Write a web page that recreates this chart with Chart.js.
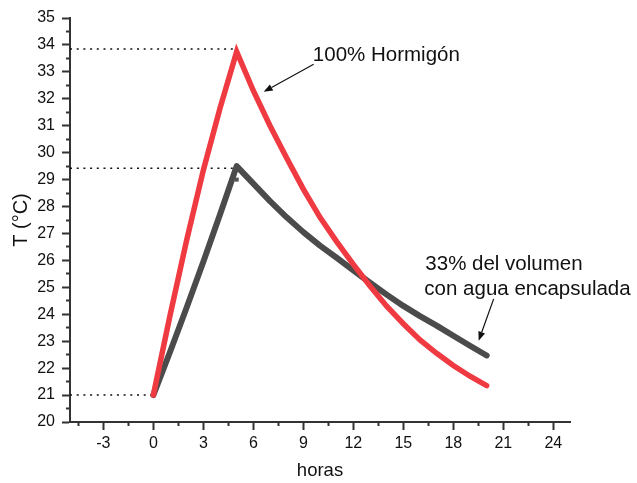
<!DOCTYPE html>
<html>
<head>
<meta charset="utf-8">
<script src="https://cdn.jsdelivr.net/npm/chart.js@4.4.0/dist/chart.umd.min.js"></script>
<style>
  html, body { margin: 0; padding: 0; background: #fff; }
</style>
</head>
<body>
<canvas id="grafico" width="637" height="483"></canvas>
<script>
// datos
const horas = [0, 1, 2, 3, 4, 5, 6, 7, 8, 9, 10, 11, 12, 13, 14, 15, 16, 17, 18, 19, 20];
const hormigon = [21, 23.95, 26.75, 29.35, 31.65, 33.75, 32.3, 31.0, 29.8, 28.65, 27.6, 26.7, 25.85, 25.05, 24.3, 23.65, 23.05, 22.55, 22.1, 21.7, 21.35];
const encapsulada = [21, 22.6, 24.25, 25.95, 27.7, 29.5, 28.85, 28.2, 27.6, 27.05, 26.55, 26.1, 25.63, 25.17, 24.73, 24.31, 23.93, 23.58, 23.2, 22.83, 22.47];
const marcaExtra = [29.0];
const marcaHora = [5];

const guiaNiveles = [33.85, 29.42, 21];
const guiaFin = [5, 5, 0];

const xTicks = [-4.5, -3, -1.5, 0, 1.5, 3, 4.5, 6, 7.5, 9, 10.5, 12, 13.5, 15, 16.5, 18, 19.5, 21, 22.5, 24];
const yTicks = [20, 20.5, 21, 21.5, 22, 22.5, 23, 23.5, 24, 24.5, 25, 25.5, 26, 26.5, 27, 27.5, 28, 28.5, 29, 29.5, 30, 30.5, 31, 31.5, 32, 32.5, 33, 33.5, 34, 34.5, 35];
const xMin = -5, xMax = 25, yMin = 20, yMax = 35;

const textos = [
    { texto: '100% Hormigón', t: 13.98, temp: 33.4, align: 'center' },
    { texto: '33% del volumen', t: 16.32, temp: 25.66, align: 'left' },
    { texto: 'con agua encapsulada', t: 16.26, temp: 24.73, align: 'left' }
];
const flechas = [
    { desde: [9.62, 33.28], hasta: [6.62, 32.26] },
    { desde: [20.42, 24.57], hasta: [19.52, 23.02] }
];

const fuente = '"Liberation Sans", Arial, sans-serif';
Chart.defaults.font.family = fuente;
Chart.defaults.color = '#111';

const notas = {
    id: 'notas',
    afterDatasetsDraw(chart) {
        const ctx = chart.ctx;
        const x = chart.scales.x, y = chart.scales.y;
        ctx.save();
        ctx.fillStyle = '#111';
        ctx.strokeStyle = '#111';
        ctx.font = '20.5px ' + fuente;
        ctx.textBaseline = 'alphabetic';
        textos.forEach(function (n) {
            ctx.textAlign = n.align;
            ctx.fillText(n.texto, x.getPixelForValue(n.t), y.getPixelForValue(n.temp));
        });
        flechas.forEach(function (f) {
            let x1 = x.getPixelForValue(f.desde[0]), y1 = y.getPixelForValue(f.desde[1]);
            let x2 = x.getPixelForValue(f.hasta[0]), y2 = y.getPixelForValue(f.hasta[1]);
            let ang = Math.atan2(y2 - y1, x2 - x1);
            let largo = 9, ancho = 3.5;
            let bx = x2 - largo * Math.cos(ang), by = y2 - largo * Math.sin(ang);
            ctx.lineWidth = 1.2;
            ctx.beginPath();
            ctx.moveTo(x1, y1);
            ctx.lineTo(bx, by);
            ctx.stroke();
            ctx.beginPath();
            ctx.moveTo(x2, y2);
            ctx.lineTo(bx + ancho * Math.sin(ang), by - ancho * Math.cos(ang));
            ctx.lineTo(bx - ancho * Math.sin(ang), by + ancho * Math.cos(ang));
            ctx.closePath();
            ctx.fill();
        });
        ctx.restore();
    }
};

let guias = guiaNiveles.map(function (nivel, i) {
    return {
        data: [{ x: xMin, y: nivel }, { x: guiaFin[i], y: nivel }],
        borderColor: '#111',
        borderWidth: 1.6,
        borderDash: [2, 4.7],
        pointRadius: 0,
        order: 3
    };
});

let ctx = document.getElementById('grafico').getContext('2d');
new Chart(ctx, {
    type: 'line',
    data: {
        datasets: [{
            label: '100% Hormigón',
            data: horas.map((h, i) => ({ x: h, y: hormigon[i] })),
            borderColor: '#ef3a41',
            borderWidth: 5.5,
            borderCapStyle: 'round',
            borderJoinStyle: 'miter',
            pointRadius: 0,
            tension: 0,
            order: 0
        }, {
            label: '33% del volumen con agua encapsulada',
            data: horas.map((h, i) => ({ x: h, y: encapsulada[i] })),
            borderColor: '#4b4b4b',
            borderWidth: 6,
            borderCapStyle: 'round',
            borderJoinStyle: 'round',
            pointRadius: 0,
            tension: 0,
            order: 1
        }, {
            data: marcaHora.map((h, i) => ({ x: h, y: marcaExtra[i] })),
            showLine: false,
            pointStyle: 'rect',
            pointRadius: 2.9,
            pointBackgroundColor: '#555',
            pointBorderColor: '#555',
            pointBorderWidth: 0,
            order: -1
        }].concat(guias)
    },
    options: {
        responsive: false,
        animation: false,
        devicePixelRatio: 1,
        layout: { padding: { top: 18, right: 67, left: 0, bottom: 0 } },
        plugins: { legend: { display: false }, tooltip: { enabled: false } },
        scales: {
            x: {
                type: 'linear',
                min: xMin,
                max: xMax,
                afterBuildTicks: s => { s.ticks = xTicks.map(v => ({ value: v })); },
                afterFit: s => { s.height = 61; },
                ticks: {
                    autoSkip: false,
                    maxRotation: 0,
                    minRotation: 0,
                    padding: 4,
                    color: '#111',
                    font: { size: 16 },
                    callback: v => (v % 3 === 0 ? v : '')
                },
                grid: {
                    drawOnChartArea: false,
                    tickLength: 8,
                    tickWidth: 2,
                    tickColor: '#333',
                    tickBorderDash: c => (c.tick && c.tick.value % 3 !== 0 ? [3, 10] : []),
                    tickBorderDashOffset: 0
                },
                border: { display: true, color: '#333', width: 2 },
                title: { display: true, text: 'horas', font: { size: 18.5 }, color: '#111', padding: { top: 0, bottom: 1 } }
            },
            y: {
                type: 'linear',
                min: yMin,
                max: yMax,
                afterBuildTicks: s => { s.ticks = yTicks.map(v => ({ value: v })); },
                afterFit: s => { s.width = 70; },
                ticks: {
                    autoSkip: false,
                    padding: 7,
                    color: '#111',
                    font: { size: 16 },
                    callback: v => (v % 1 === 0 ? v : '')
                },
                grid: {
                    drawOnChartArea: false,
                    tickLength: 8,
                    tickWidth: 2,
                    tickColor: '#333',
                    tickBorderDash: c => (c.tick && c.tick.value % 1 !== 0 ? [3, 4] : []),
                    tickBorderDashOffset: c => (c.tick && c.tick.value % 1 !== 0 ? 3 : 0)
                },
                border: { display: true, color: '#333', width: 2 },
                title: { display: true, text: 'T (°C)', font: { size: 20 }, color: '#111', padding: { top: 9, bottom: 0 } }
            }
        }
    },
    plugins: [notas]
});
</script>
</body>
</html>
